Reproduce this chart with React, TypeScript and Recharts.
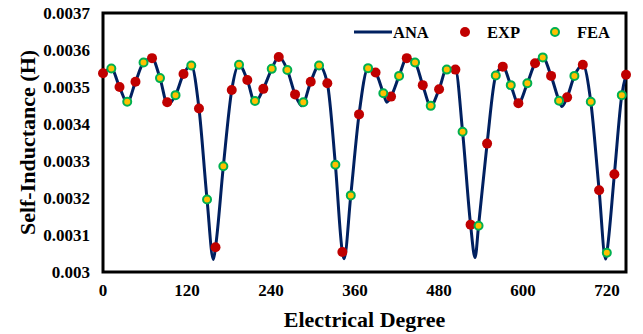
import { ComposedChart, Line, XAxis, YAxis, ReferenceArea, Legend } from 'recharts'

// degree positions and values
const anaDeg = [0, 11.9, 23.6, 34.6, 46.4, 57.9, 70, 81.4, 92.5, 103.6, 115, 126.1, 137.1, 148.6, 157.6, 160.7, 171.9, 183.9, 194.3, 206.1, 217.1, 229, 241, 251, 263.3, 274.3, 284, 296.7, 308.6, 320.4, 331.9, 341.9, 344.3, 353.9, 365.7, 378.6, 389.3, 400.4, 405.3, 411.4, 422.9, 433.9, 445.7, 456.7, 468.1, 480, 491, 503.3, 513.6, 525, 531.4, 536.4, 548.6, 561, 571, 582.4, 593.3, 606.1, 617.1, 628.1, 640, 651.4, 655.3, 662.9, 673.3, 685.3, 696.7, 708.6, 717.9, 719.6, 730.4, 741, 747]
const anaVal = [0.003537, 0.00355, 0.0035, 0.003458, 0.003514, 0.003566, 0.003578, 0.003524, 0.003452, 0.003478, 0.003535, 0.003558, 0.003442, 0.003196, 0.003034, 0.003067, 0.003286, 0.003492, 0.00356, 0.003519, 0.003458, 0.003495, 0.003549, 0.003581, 0.003546, 0.00348, 0.003449, 0.003514, 0.003558, 0.00351, 0.00329, 0.003054, 0.003036, 0.003207, 0.003426, 0.003551, 0.003539, 0.003483, 0.003459, 0.003474, 0.00353, 0.003578, 0.003566, 0.003505, 0.003449, 0.003494, 0.003549, 0.003548, 0.003379, 0.003128, 0.003039, 0.003125, 0.003347, 0.003531, 0.003555, 0.003505, 0.003456, 0.00351, 0.003564, 0.00358, 0.00353, 0.003463, 0.003447, 0.003472, 0.00353, 0.00356, 0.00346, 0.003221, 0.003035, 0.003052, 0.003264, 0.003478, 0.003533]

const expDeg = [0, 23.6, 46.4, 70, 91.7, 115, 137.1, 160.7, 183.9, 206.1, 229, 251, 274.3, 296.7, 320.4, 341.9, 365.7, 389.3, 411.4, 433.9, 456.7, 480, 503.3, 525, 548.6, 571, 593.3, 617.1, 640, 662.9, 685.3, 708.6, 730.4, 747]
const expVal = [0.003537, 0.0035, 0.003514, 0.003578, 0.003459, 0.003535, 0.003442, 0.003067, 0.003492, 0.003519, 0.003495, 0.003581, 0.00348, 0.003514, 0.00351, 0.003054, 0.003426, 0.003539, 0.003474, 0.003578, 0.003505, 0.003494, 0.003547, 0.003128, 0.003347, 0.003555, 0.003456, 0.003564, 0.00353, 0.003472, 0.00356, 0.003221, 0.003264, 0.003533]

const feaDeg = [11.9, 34.6, 57.9, 81.4, 103.6, 126.1, 148.6, 171.9, 194.3, 217.1, 241, 263.3, 286.1, 308.6, 331.9, 353.9, 378.6, 400.4, 422.9, 445.7, 468.1, 491, 513.6, 536.4, 561, 582.4, 606.1, 628.1, 651.4, 673.3, 696.7, 719.6, 741]
const feaVal = [0.00355, 0.00346, 0.003566, 0.003524, 0.003478, 0.003558, 0.003196, 0.003286, 0.00356, 0.003462, 0.003549, 0.003546, 0.003459, 0.003558, 0.00329, 0.003207, 0.003551, 0.003483, 0.00353, 0.003566, 0.003449, 0.003547, 0.003379, 0.003125, 0.003531, 0.003505, 0.00351, 0.00358, 0.003463, 0.00353, 0.00346, 0.003052, 0.003478]

const xTicks = [0, 120, 240, 360, 480, 600, 720]
const yTicks = [0.003, 0.0031, 0.0032, 0.0033, 0.0034, 0.0035, 0.0036, 0.0037]

const toRows = (deg: number[], val: number[]) => deg.map((d, i) => ({ deg: d, v: val[i] }))
const anaData = toRows(anaDeg, anaVal)
const expData = toRows(expDeg, expVal)
const feaData = toRows(feaDeg, feaVal)

const FONT = '"Liberation Serif", "Times New Roman", serif'
const NAVY = '#002060'
const RED = '#C00000'
const YELLOW = '#FFC000'
const GREEN = '#00B050'

function renderLegend() {
  const txt = { fontFamily: FONT, fontWeight: 700, fontSize: 16.5, fill: '#000' }
  return (
    <svg width={270} height={26}>
      <line x1={4} x2={42} y1={13} y2={13} stroke={NAVY} strokeWidth={3} />
      <text x={43} y={13} dominantBaseline="central" {...txt}>ANA</text>
      <circle cx={115} cy={13} r={5} fill={RED} />
      <text x={137} y={13} dominantBaseline="central" {...txt}>EXP</text>
      <circle cx={205} cy={13} r={4} fill={YELLOW} stroke={GREEN} strokeWidth={2} />
      <text x={227} y={13} dominantBaseline="central" {...txt}>FEA</text>
    </svg>
  )
}

export default function App() {
  const tick = { fontFamily: FONT, fontWeight: 700, fontSize: 17, fill: '#000' }
  return (
    <div style={{ position: 'absolute', left: 0, top: 0, width: 643, height: 334, background: '#fff' }}>
      <ComposedChart width={643} height={334} margin={{ top: 13, right: 17, bottom: 32, left: 0 }}>
        <XAxis
          dataKey="deg"
          type="number"
          domain={[0, 747]}
          ticks={xTicks}
          axisLine={false}
          tickLine={false}
          tickSize={0}
          tickMargin={12}
          height={30}
          tick={tick}
          allowDuplicatedCategory={false}
          label={{
            value: 'Electrical Degree',
            position: 'bottom',
            offset: 9,
            style: { fontFamily: FONT, fontWeight: 700, fontSize: 22, fill: '#000' },
          }}
        />
        <YAxis
          type="number"
          domain={[0.003, 0.0037]}
          ticks={yTicks}
          axisLine={false}
          tickLine={false}
          tickSize={0}
          tickMargin={13}
          width={103}
          tick={tick}
          tickFormatter={(v: number) => String(v)}
          label={{
            value: 'Self-Inductance (H)',
            angle: -90,
            position: 'insideLeft',
            offset: 27,
            style: { textAnchor: 'middle', fontFamily: FONT, fontWeight: 700, fontSize: 22, fill: '#000' },
          }}
        />
        <ReferenceArea
          x1={0}
          x2={747}
          y1={0.003}
          y2={0.0037}
          fill="none"
          fillOpacity={0}
          stroke="#000"
          strokeWidth={3}
          ifOverflow="visible"
        />
        <Line
          data={anaData}
          dataKey="v"
          type="monotone"
          stroke={NAVY}
          strokeWidth={3}
          dot={false}
          activeDot={false}
          isAnimationActive={false}
        />
        <Line
          data={expData}
          dataKey="v"
          stroke="none"
          dot={{ r: 5, fill: RED, stroke: 'none' }}
          activeDot={false}
          isAnimationActive={false}
        />
        <Line
          data={feaData}
          dataKey="v"
          stroke="none"
          dot={{ r: 4, fill: YELLOW, stroke: GREEN, strokeWidth: 2 }}
          activeDot={false}
          isAnimationActive={false}
        />
        <Legend
          layout="horizontal"
          verticalAlign="middle"
          align="center"
          wrapperStyle={{ top: 19, left: 350, width: 270, height: 26 }}
          content={renderLegend}
        />
      </ComposedChart>
    </div>
  )
}
